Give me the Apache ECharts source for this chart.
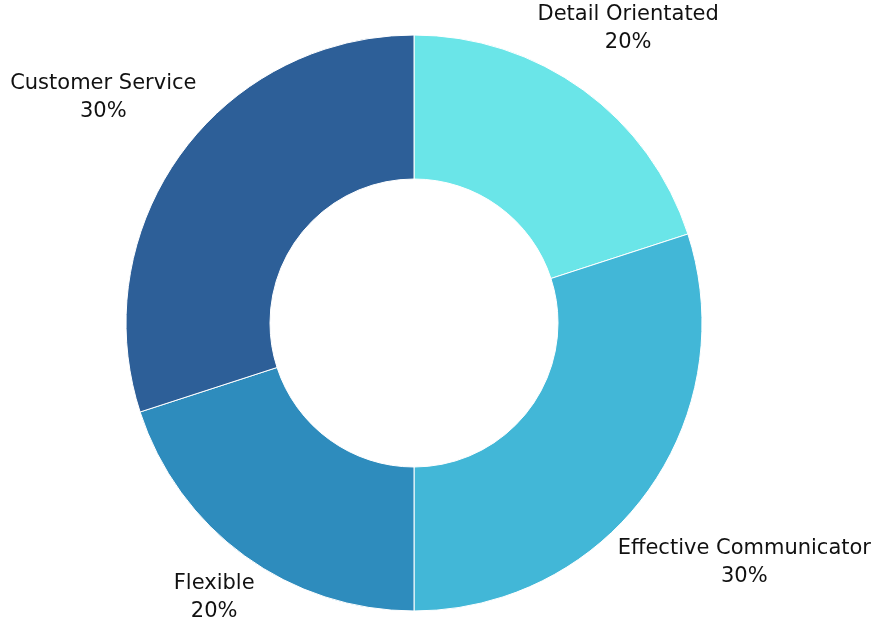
<!DOCTYPE html>
<html>
<head>
<meta charset="utf-8">
<script src="https://cdn.jsdelivr.net/npm/echarts@6/dist/echarts.min.js"></script>
<style>
html,body{margin:0;padding:0;background:#fff;}
#main{width:886px;height:628px;}
</style>
</head>
<body>
<div id="main"></div>
<script>
let categories=['Detail Orientated','Effective Communicator','Flexible','Customer Service'];
let values=[20,30,20,30];
let colors=['#6ae5e8','#42b7d7','#2e8cbd','#2d5f98'];

let center=[414,323];
let radius=[144,288];
let gap=6;

let total=values.reduce(function(a,b){return a+b;},0);

// puts each label box just outside the ring, along the middle of its slice
function placeLabel(params){
    let i=params.dataIndex;
    let before=0;
    for(let k=0;k<i;k++)before+=values[k];
    let mid=(before+values[i]/2)/total*Math.PI*2;
    let ux=Math.sin(mid),uy=-Math.cos(mid);
    let w=params.labelRect.width,h=params.labelRect.height;
    let sx=(ux>=0?1:-1)*w/2,sy=(uy>=0?1:-1)*h/2;
    let us=ux*sx+uy*sy;
    let R=radius[1]+gap;
    let d=us+Math.sqrt(us*us-(sx*sx+sy*sy)+R*R);
    return {
        x:center[0]+d*ux,
        y:center[1]+d*uy,
        align:'center',
        verticalAlign:'middle'
    };
}

let option={
    animation:false,
    series:[{
        type:'pie',
        center:center,
        radius:radius,
        startAngle:90,
        clockwise:true,
        avoidLabelOverlap:false,
        itemStyle:{borderColor:'#fff',borderWidth:1},
        label:{
            show:true,
            position:'outside',
            formatter:function(p){return p.name+'\n'+p.value+'%';},
            color:'#111',
            fontFamily:'DejaVu Sans',
            fontSize:21,
            lineHeight:28
        },
        labelLine:{show:false},
        labelLayout:placeLabel,
        emphasis:{disabled:true},
        data:categories.map(function(name,i){
            return {name:name,value:values[i],itemStyle:{color:colors[i]}};
        })
    }]
};

let myChart=echarts.init(document.getElementById('main'));
myChart.setOption(option);
</script>
</body>
</html>
